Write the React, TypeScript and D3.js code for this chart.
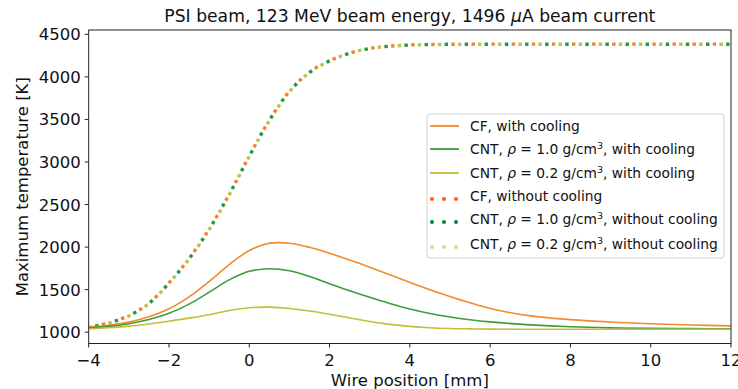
import React from "react";
import * as d3 from "d3";

const xs = [-4, -3.5, -3, -2.5, -2, -1.5, -1, -0.5, 0, 0.5, 1, 1.5, 2, 2.5, 3, 3.5, 4, 4.5, 5, 5.5, 6, 7, 8, 9, 10, 11, 12];

const cfCool = [1060, 1082, 1118, 1180, 1275, 1415, 1595, 1795, 1960, 2045, 2045, 1998, 1928, 1848, 1763, 1675, 1585, 1500, 1420, 1345, 1278, 1192, 1148, 1119, 1099, 1084, 1074];
const cnt10Cool = [1050, 1068, 1100, 1150, 1222, 1330, 1470, 1615, 1715, 1746, 1722, 1655, 1570, 1487, 1410, 1338, 1273, 1220, 1179, 1146, 1121, 1086, 1063, 1051, 1045, 1042, 1040];
const cnt02Cool = [1040, 1052, 1071, 1097, 1128, 1165, 1205, 1254, 1288, 1294, 1278, 1248, 1210, 1167, 1125, 1092, 1068, 1052, 1043, 1039, 1036, 1035, 1035, 1035, 1035, 1035, 1035];
const cfNoCool = [1060, 1110, 1195, 1340, 1580, 1865, 2210, 2620, 3070, 3490, 3830, 4055, 4190, 4280, 4335, 4362, 4375, 4381, 4384, 4385, 4385, 4385, 4385, 4385, 4385, 4385, 4385];
const cnt10NoCool = [1058, 1108, 1193, 1338, 1578, 1863, 2208, 2618, 3068, 3488, 3828, 4053, 4188, 4279, 4334, 4361, 4374, 4380, 4383, 4384, 4384, 4384, 4384, 4384, 4384, 4384, 4384];
const cnt02NoCool = [1056, 1106, 1191, 1336, 1576, 1861, 2206, 2616, 3066, 3486, 3826, 4051, 4186, 4278, 4333, 4360, 4373, 4379, 4382, 4383, 4383, 4383, 4383, 4383, 4383, 4383, 4383];

const xTicks = [-4, -2, 0, 2, 4, 6, 8, 10, 12];
const yTicks = [1000, 1500, 2000, 2500, 3000, 3500, 4000, 4500];

const xLabel = "Wire position [mm]";
const yLabel = "Maximum temperature [K]";

type Series = {
  values: number[];
  color: string;
  legendColor: string;
  dotted: boolean;
  offset: number;
  pre: string;
  rho?: string;
  post: string;
};

const series: Series[] = [
  { values: cfCool, color: "#f28a2e", legendColor: "#f28a2e", dotted: false, offset: 0, pre: "CF, with cooling", post: "" },
  { values: cnt10Cool, color: "#3c9c3a", legendColor: "#3c9c3a", dotted: false, offset: 0, pre: "CNT, ", rho: "1.0", post: ", with cooling" },
  { values: cnt02Cool, color: "#c2bf3a", legendColor: "#c2bf3a", dotted: false, offset: 0, pre: "CNT, ", rho: "0.2", post: ", with cooling" },
  { values: cfNoCool, color: "#f3812e", legendColor: "#ff5f14", dotted: true, offset: -13.4, pre: "CF, without cooling", post: "" },
  { values: cnt10NoCool, color: "#239a3e", legendColor: "#05893a", dotted: true, offset: -6.7, pre: "CNT, ", rho: "1.0", post: ", without cooling" },
  { values: cnt02NoCool, color: "#b9c446", legendColor: "#d5df85", dotted: true, offset: 0, pre: "CNT, ", rho: "0.2", post: ", without cooling" },
];

const W = 738;
const H = 389;
const left = 88.7;
const right = 731;
const top = 30;
const bottom = 343.5;
const FONT = "'DejaVu Sans', sans-serif";

export default function App() {
  const x = d3.scaleLinear().domain([-4, 12]).range([left, right]);
  const y = d3.scaleLinear().domain([867, 4551]).range([bottom, top]);
  const line = d3
    .line<number>()
    .x((_, i) => x(xs[i]))
    .y((d) => y(d))
    .curve(d3.curveCatmullRom.alpha(0.5));

  const drawOrder = [3, 4, 5, 0, 1, 2];
  const fmt = (v: number) => (v < 0 ? "\u2212" + Math.abs(v) : String(v));

  const legX = 427;
  const legY = 114;
  const rowYs = [126, 149, 173, 196, 219, 244];

  return (
    <svg width={W} height={H} style={{ position: "absolute", left: 0, top: 0, background: "#fff" }} fontFamily={FONT}>
      <rect x={0} y={0} width={W} height={H} fill="#fff" />
      <defs>
        <clipPath id="plotclip">
          <rect x={left} y={top} width={right - left} height={bottom - top} />
        </clipPath>
      </defs>
      <g clipPath="url(#plotclip)">
        {drawOrder.map((k) => {
          const s = series[k];
          return (
            <path
              key={k}
              d={line(s.values) || ""}
              fill="none"
              stroke={s.color}
              strokeWidth={s.dotted ? 3.4 : 1.6}
              strokeDasharray={s.dotted ? "3.4 16.7" : undefined}
              strokeDashoffset={s.dotted ? s.offset : undefined}
            />
          );
        })}
      </g>
      <rect x={left} y={top} width={right - left} height={bottom - top} fill="none" stroke="#222" strokeWidth={1} />
      {xTicks.map((t) => (
        <g key={"x" + t}>
          <line x1={x(t)} x2={x(t)} y1={bottom} y2={bottom + 4} stroke="#222" strokeWidth={1} />
          <text x={x(t)} y={bottom + 22} fontSize={16.5} textAnchor="middle" fill="#111">
            {fmt(t)}
          </text>
        </g>
      ))}
      {yTicks.map((t) => (
        <g key={"y" + t}>
          <line x1={left - 4} x2={left} y1={y(t)} y2={y(t)} stroke="#222" strokeWidth={1} />
          <text x={left - 8} y={y(t) + 6} fontSize={16.5} textAnchor="end" fill="#111">
            {t}
          </text>
        </g>
      ))}
      <text x={(left + right) / 2} y={386} fontSize={16.5} textAnchor="middle" fill="#111">
        {xLabel}
      </text>
      <text transform={`translate(28, ${(top + bottom) / 2}) rotate(-90)`} fontSize={16.5} textAnchor="middle" fill="#111">
        {yLabel}
      </text>
      <text x={(left + right) / 2} y={22} fontSize={17.2} textAnchor="middle" fill="#111">
        PSI beam, 123 MeV beam energy, 1496 <tspan fontStyle="italic">{"\u03BC"}</tspan>A beam current
      </text>
      <rect x={legX} y={legY} width={297} height={144} rx={3} fill="#fff" fillOpacity={0.85} stroke="#d0d0d0" strokeWidth={1} />
      {series.map((s, i) => {
        const yy = rowYs[i];
        return (
          <g key={"leg" + i}>
            {s.dotted ? (
              [432, 444, 456].map((cx) => <circle key={cx} cx={cx} cy={yy + 3} r={2.1} fill={s.legendColor} />)
            ) : (
              <line x1={430} x2={459} y1={yy} y2={yy} stroke={s.legendColor} strokeWidth={1.8} />
            )}
            <text x={470} y={yy + 4.5} fontSize={13.8} fill="#111">
              {s.pre}
              {s.rho ? (
                <>
                  <tspan fontStyle="italic">{"\u03C1"}</tspan>
                  {" = " + s.rho + " g/cm"}
                  <tspan fontSize={9.5} dy={-5}>3</tspan>
                  <tspan dy={5}>{s.post}</tspan>
                </>
              ) : null}
            </text>
          </g>
        );
      })}
    </svg>
  );
}
